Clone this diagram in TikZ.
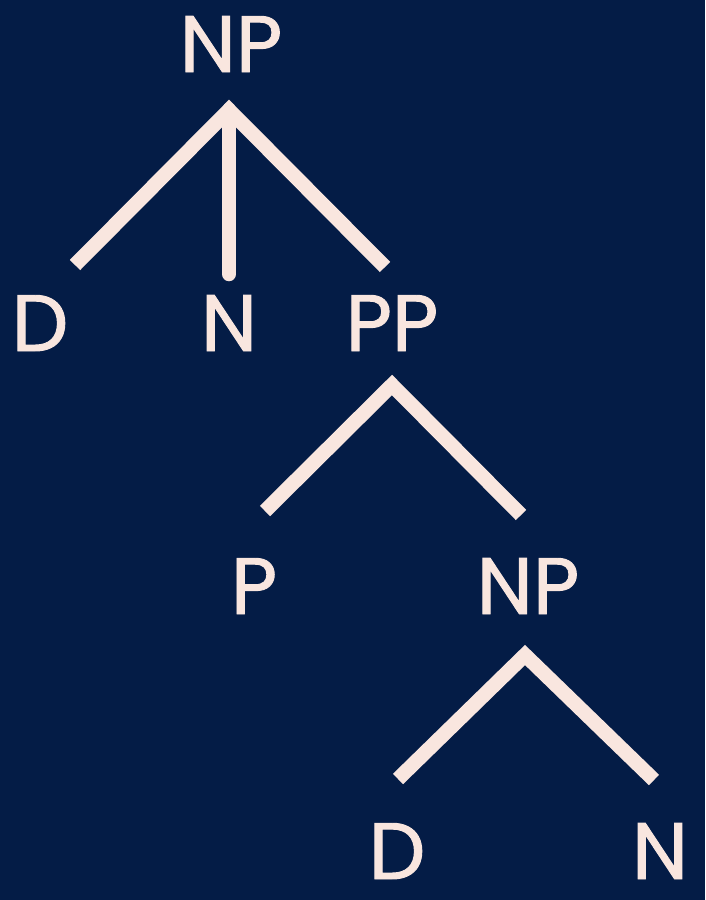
\documentclass[tikz,border=0pt]{standalone}
\usepackage{fontspec}
\setmainfont{Poppins}[FakeBold=1.2]
\definecolor{bgnavy}{HTML}{041C46}
\definecolor{pinkish}{HTML}{F9E6DF}
\begin{document}
\begin{tikzpicture}[x=1pt,y=-1pt,
  lab/.style={text=pinkish,font=\fontsize{80}{80}\selectfont,anchor=base,inner sep=0pt},
  branch/.style={draw=pinkish,line width=14.5pt,line join=miter,line cap=butt},
  stem/.style={draw=pinkish,line width=14.5pt,line cap=round}]
\fill[bgnavy] (0,0) rectangle (705,900);
\useasboundingbox (0,0) rectangle (705,900);
% labels
\node[lab] (np1) at (231,72) {NP};
\node[lab] (d1) at (40,351) {D};
\node[lab] (n1) at (229,351) {N};
\node[lab] (pp) at (392,351) {PP};
\node[lab] (p) at (254,614) {P};
\node[lab] (np2) at (528,614) {NP};
\node[lab] (d2) at (397,879) {D};
\node[lab] (n2) at (660,879) {N};
% branch points
\coordinate (a1) at (229,110);
\coordinate (l1) at (75,265);
\coordinate (m1) at (229,274);
\coordinate (r1) at (385,267);
\coordinate (a2) at (392,385);
\coordinate (l2) at (265,511);
\coordinate (r2) at (521,515);
\coordinate (a3) at (525,655);
\coordinate (l3) at (398,779);
\coordinate (r3) at (654,780);
\draw[stem] (a1) -- (m1);
\draw[branch] (l1) -- (a1) -- (r1);
\draw[branch] (l2) -- (a2) -- (r2);
\draw[branch] (l3) -- (a3) -- (r3);
\end{tikzpicture}
\end{document}
